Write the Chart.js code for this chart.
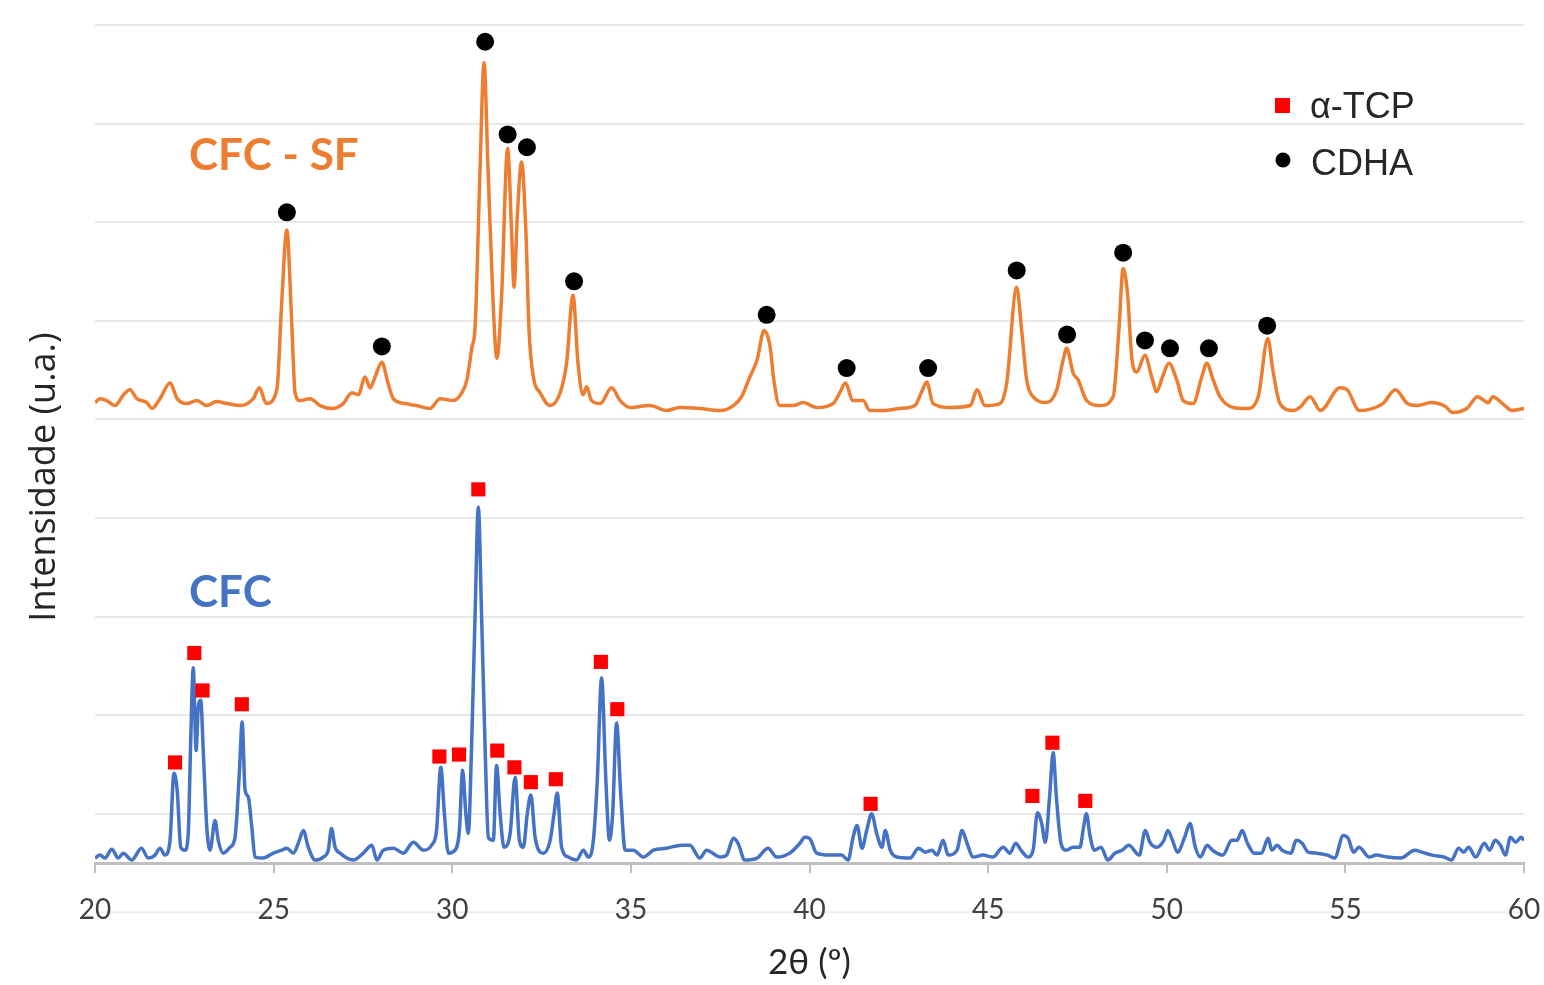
<!DOCTYPE html>
<html>
<head>
<meta charset="utf-8">
<title>DRX - CFC / CFC - SF</title>
<script src="https://cdn.jsdelivr.net/npm/chart.js"></script>
<style>
  html, body { margin: 0; padding: 0; background: #fff; }
  #wrap { width: 1544px; height: 985px; }
</style>
</head>
<body>
<div id="wrap"><canvas id="xrdChart" width="1544" height="985"></canvas></div>
<script>
// 2θ (º) and intensity (u.a.); CFC - SF trace is offset upwards
const sfAngles = [20.0, 20.14, 20.33, 20.56, 20.8, 20.98, 21.17, 21.45, 21.6, 21.82, 22.1, 22.3, 22.57, 22.85, 23.13, 23.4, 23.7, 24.06, 24.43, 24.6, 24.8,
  25.09, 25.23, 25.37, 25.5, 25.6, 25.74, 26.02, 26.3, 26.63, 26.95, 27.19, 27.37, 27.56, 27.7, 27.84, 28.03, 28.2, 28.35, 28.68, 29.0, 29.38, 29.66,
  30.03, 30.27, 30.41, 30.55, 30.64, 30.78, 30.89, 31.0, 31.14, 31.25, 31.38, 31.55, 31.66, 31.73, 31.82, 31.94, 32.06, 32.15, 32.27, 32.46, 32.74,
  33.02, 33.2, 33.38, 33.52, 33.66, 33.76, 33.9, 34.14, 34.46, 34.7, 34.98, 35.53, 36.0, 36.37, 36.93, 37.5, 37.87, 38.1, 38.33, 38.53, 38.73, 38.9,
  39.0, 39.17, 39.54, 39.82, 40.2, 40.66, 40.85, 41.0, 41.22, 41.5, 41.69, 42.07, 42.53, 42.95, 43.14, 43.28, 43.46, 43.93, 44.5, 44.69, 44.91,
  45.33, 45.52, 45.8, 45.94, 46.08, 46.26, 46.64, 46.92, 47.08, 47.2, 47.38, 47.52, 47.76, 48.13, 48.5, 48.66, 48.78, 48.9, 49.02, 49.16, 49.39,
  49.58, 49.72, 49.88, 50.06, 50.28, 50.46, 50.74, 50.98, 51.12, 51.3, 51.49, 51.86, 52.24, 52.56, 52.83, 52.97, 53.17, 53.54, 53.75, 54.01, 54.3,
  54.85, 55.05, 55.39, 56.05, 56.4, 56.74, 57.0, 57.4, 57.8, 58.0, 58.4, 58.7, 59.0, 59.13, 59.4, 59.67, 60.0];
const sfCounts = [517, 521, 519, 514, 525, 530, 521, 517, 511, 521, 537, 521, 516, 519, 514, 518, 516, 514, 521, 532, 516,
  530, 621, 692, 604, 527, 519, 521, 514, 511, 516, 527, 525, 543, 532, 543, 558, 537, 521, 516, 514, 511, 521,
  519, 527, 540, 573, 594, 756, 862, 756, 621, 562, 624, 775, 692, 634, 705, 761, 692, 590, 543, 527, 514,
  527, 557, 626, 557, 525, 533, 519, 516, 532, 519, 512, 514, 509, 512, 511, 509, 514, 523, 543, 560, 590, 573,
  540, 514, 514, 517, 512, 516, 527, 537, 519, 519, 509, 509, 511, 514, 528, 538, 516, 512, 514, 530, 514,
  516, 537, 634, 590, 540, 523, 517, 530, 557, 572, 547, 540, 519, 514, 523, 590, 653, 628, 563, 548, 565,
  543, 528, 543, 557, 540, 519, 516, 543, 557, 540, 523, 512, 511, 523, 582, 550, 516, 509, 513, 523, 509,
  532, 530, 509, 516, 530, 516, 514, 517, 513, 507, 511, 523, 517, 523, 516, 509, 511];

const cfcAngles = [20.0, 20.14, 20.28, 20.47, 20.65, 20.79, 21.03, 21.3, 21.49, 21.68, 21.82, 21.96, 22.1, 22.21, 22.3, 22.4, 22.52, 22.61, 22.68,
  22.75, 22.83, 22.89, 22.96, 23.03, 23.13, 23.22, 23.36, 23.45, 23.59, 23.78, 23.92, 24.04, 24.12, 24.2, 24.29, 24.39, 24.48, 24.71, 24.99,
  25.23, 25.37, 25.55, 25.72, 25.83, 25.97, 26.16, 26.39, 26.53, 26.62, 26.72, 26.86, 27.23, 27.51, 27.75, 27.89, 28.07, 28.35, 28.63, 28.91,
  29.19, 29.42, 29.56, 29.68, 29.78, 29.89, 30.08, 30.2, 30.29, 30.38, 30.45, 30.54, 30.64, 30.73, 30.82, 30.92, 31.01, 31.15, 31.24, 31.34,
  31.45, 31.62, 31.76, 31.88, 31.99, 32.1, 32.2, 32.32, 32.55, 32.74, 32.85, 32.94, 33.06, 33.25, 33.48, 33.67, 33.81, 33.95, 34.06, 34.18,
  34.3, 34.4, 34.49, 34.6, 34.72, 34.84, 35.07, 35.35, 35.63, 36.0, 36.42, 36.65, 36.93, 37.12, 37.5, 37.68, 37.87, 38.0, 38.19, 38.53, 38.84,
  39.08, 39.45, 39.73, 39.87, 40.0, 40.2, 40.57, 40.9, 41.08, 41.22, 41.33, 41.47, 41.6, 41.74, 41.88, 42.03, 42.12, 42.26, 42.44, 42.82,
  43.05, 43.24, 43.43, 43.57, 43.74, 43.88, 44.13, 44.27, 44.41, 44.58, 44.86, 45.13, 45.42, 45.61, 45.77, 45.92, 46.11, 46.26, 46.38, 46.5,
  46.6, 46.72, 46.82, 46.91, 47.04, 47.18, 47.38, 47.57, 47.67, 47.75, 47.85, 47.97, 48.16, 48.35, 48.55, 48.75, 48.94, 49.23, 49.4, 49.53,
  49.72, 49.92, 50.03, 50.16, 50.3, 50.5, 50.65, 50.8, 50.94, 51.13, 51.28, 51.57, 51.82, 51.97, 52.11, 52.26, 52.45, 52.65, 52.84, 52.94,
  53.09, 53.23, 53.48, 53.62, 53.79, 53.96, 54.2, 54.5, 54.7, 54.94, 55.08, 55.23, 55.38, 55.67, 55.86, 56.17, 56.55, 56.94, 57.14, 57.43,
  57.77, 57.97, 58.17, 58.31, 58.45, 58.65, 58.89, 59.04, 59.19, 59.34, 59.48, 59.62, 59.77, 59.92, 60.0];
const cfcCounts = [55, 58, 55, 64, 55, 60, 53, 65, 55, 58, 65, 58, 73, 141, 124, 66, 63, 80, 175,
  248, 164, 208, 215, 164, 86, 63, 93, 73, 60, 66, 76, 141, 193, 124, 117, 86, 56, 55, 60,
  63, 65, 60, 73, 83, 66, 53, 56, 63, 85, 66, 60, 53, 60, 68, 53, 63, 65, 60, 71,
  63, 68, 83, 147, 100, 60, 63, 83, 144, 100, 80, 167, 303, 411, 303, 167, 76, 73, 149, 100,
  66, 80, 137, 73, 66, 100, 119, 76, 60, 73, 100, 121, 66, 56, 53, 63, 56, 73, 134, 238,
  134, 73, 100, 192, 117, 63, 63, 56, 63, 65, 68, 68, 55, 63, 56, 58, 75, 70, 53, 55, 65,
  56, 60, 70, 76, 75, 60, 58, 58, 53, 76, 88, 65, 83, 100, 80, 66, 83, 63, 56, 55,
  65, 61, 63, 58, 73, 58, 63, 83, 70, 56, 58, 56, 66, 60, 70, 63, 56, 63, 101, 90,
  71, 117, 162, 117, 70, 63, 66, 66, 86, 100, 78, 63, 66, 53, 60, 63, 68, 58, 83, 71,
  66, 73, 83, 73, 61, 76, 90, 66, 56, 68, 63, 58, 73, 73, 83, 70, 60, 60, 75, 63,
  68, 63, 60, 73, 70, 61, 60, 58, 55, 78, 75, 61, 66, 56, 58, 56, 55, 63, 61, 58,
  56, 53, 65, 61, 66, 56, 70, 63, 73, 68, 58, 76, 71, 76, 73];

// phase markers placed above the peaks
const cdhaAngles = [25.37, 28.03, 30.92, 31.55, 32.09, 33.41, 38.80, 41.04, 43.32, 45.80, 47.21, 48.78, 49.39, 50.09, 51.18, 52.81];
const cdhaCounts = [710, 574, 883, 789, 776, 640, 606, 552, 552, 651, 586, 669, 580, 572, 572, 595];
const tcpAngles = [22.24, 22.78, 23.01, 24.11, 29.64, 30.19, 30.73, 31.26, 31.74, 32.20, 32.90, 34.16, 34.62, 41.71, 46.24, 46.80, 47.72];
const tcpCounts = [152, 263, 225, 211, 158, 160, 429, 164, 147, 132, 135, 254, 206, 110, 118, 172, 113];

const xTicks = [20, 25, 30, 35, 40, 45, 50, 55, 60];

const SF_COLOR = '#ED7D31';
const CFC_COLOR = '#4472C4';
const TCP_COLOR = '#FF0000';
const CDHA_COLOR = '#000000';

function pairs(xs, ys) {
  return xs.map((x, i) => ({ x: x, y: ys[i] }));
}

const extras = {
  id: 'extras',
  beforeDraw(chart) {
    // faint grid line at 0, it runs behind the x tick labels
    const { ctx, chartArea, scales } = chart;
    const y0 = scales.y.getPixelForValue(0);
    ctx.save();
    ctx.strokeStyle = '#ededed';
    ctx.lineWidth = 2;
    ctx.beginPath();
    ctx.moveTo(chartArea.left, y0);
    ctx.lineTo(chartArea.right, y0);
    ctx.stroke();
    ctx.restore();
  },
  afterDraw(chart) {
    const { ctx } = chart;
    ctx.save();

    // sample names
    ctx.textAlign = 'left';
    ctx.textBaseline = 'alphabetic';
    ctx.font = 'bold 44px Lato';
    ctx.fillStyle = SF_COLOR;
    ctx.fillText('CFC - SF', 189, 170);
    ctx.fillStyle = CFC_COLOR;
    ctx.fillText('CFC', 189, 607);

    // legend
    ctx.fillStyle = TCP_COLOR;
    ctx.fillRect(1275, 98, 15, 15);
    ctx.fillStyle = CDHA_COLOR;
    ctx.beginPath();
    ctx.arc(1283, 160, 7.5, 0, Math.PI * 2);
    ctx.fill();
    ctx.fillStyle = '#262626';
    ctx.font = '36px "Liberation Sans"';
    ctx.fillText('α-TCP', 1310, 118);
    ctx.fillText('CDHA', 1311, 175);

    // y axis title
    ctx.translate(55, 477);
    ctx.rotate(-Math.PI / 2);
    ctx.textAlign = 'center';
    ctx.font = '36px "Open Sans"';
    ctx.fillText('Intensidade (u.a.)', 0, 0);
    ctx.restore();
  }
};

function drawChart() {
  const ctx = document.getElementById('xrdChart');
  new Chart(ctx, {
    type: 'line',
    data: {
      datasets: [
        {
          label: 'α-TCP',
          data: pairs(tcpAngles, tcpCounts),
          showLine: false,
          pointStyle: 'rect',
          pointRadius: 10,
          pointBackgroundColor: TCP_COLOR,
          pointBorderWidth: 0
        },
        {
          label: 'CDHA',
          data: pairs(cdhaAngles, cdhaCounts),
          showLine: false,
          pointStyle: 'circle',
          pointRadius: 9,
          pointBackgroundColor: CDHA_COLOR,
          pointBorderWidth: 0
        },
        {
          label: 'CFC - SF',
          data: pairs(sfAngles, sfCounts),
          borderColor: SF_COLOR,
          borderWidth: 3.5,
          pointRadius: 0,
          cubicInterpolationMode: 'monotone'
        },
        {
          label: 'CFC',
          data: pairs(cfcAngles, cfcCounts),
          borderColor: CFC_COLOR,
          borderWidth: 3.5,
          pointRadius: 0,
          cubicInterpolationMode: 'monotone'
        }
      ]
    },
    options: {
      responsive: false,
      animation: false,
      devicePixelRatio: 1,
      layout: { padding: { left: 0, right: 20, top: 25, bottom: 0 } },
      plugins: {
        legend: { display: false },
        tooltip: { enabled: false }
      },
      scales: {
        x: {
          type: 'linear',
          min: 20,
          max: 60,
          afterBuildTicks: (scale) => { scale.ticks = xTicks.map(v => ({ value: v })); },
          afterFit: (scale) => {
            scale.height = 122;
            scale.paddingLeft = 0;
            scale.paddingRight = 0;
          },
          grid: {
            drawOnChartArea: false,
            drawTicks: true,
            tickLength: 10,
            color: '#bfbfbf',
            lineWidth: 2
          },
          border: { display: true, color: '#bfbfbf', width: 3 },
          ticks: {
            padding: 20,
            color: '#404040',
            font: { family: 'Lato', size: 28 }
          },
          title: {
            display: true,
            text: '2θ (º)',
            color: '#262626',
            font: { family: 'Lato', size: 35 },
            padding: { top: 0, bottom: 1 }
          }
        },
        y: {
          min: 50,
          max: 900,
          afterFit: (scale) => { scale.width = 95; },
          ticks: { display: false, stepSize: 100, includeBounds: false },
          grid: { color: '#e8e8e8', lineWidth: 2, drawTicks: false },
          border: { display: false }
        }
      }
    },
    plugins: [extras]
  });
}

document.addEventListener('DOMContentLoaded', () => {
  Promise.all([
    document.fonts.load('bold 44px Lato'),
    document.fonts.load('28px Lato'),
    document.fonts.load('36px "Open Sans"'),
    document.fonts.load('36px "Liberation Sans"')
  ]).catch(() => {}).then(drawChart);
});
</script>
</body>
</html>
